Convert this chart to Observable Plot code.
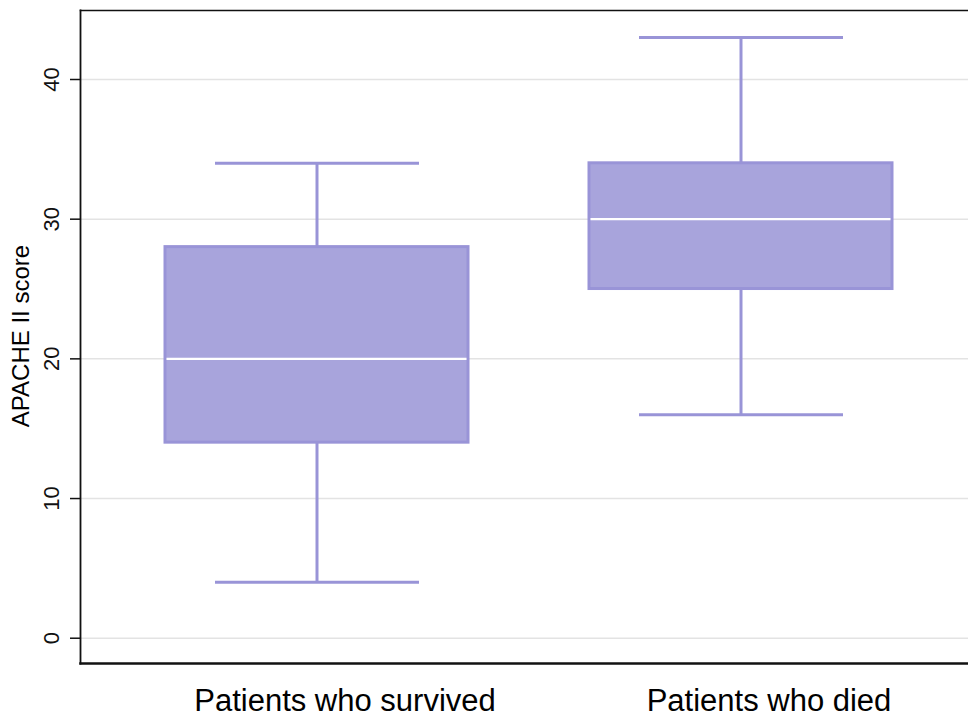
<!DOCTYPE html>
<html>
<head>
<meta charset="utf-8">
<script src="https://cdn.jsdelivr.net/npm/d3@7"></script>
<script src="https://cdn.jsdelivr.net/npm/@observablehq/plot@0.6"></script>
<style>
  html, body { margin: 0; padding: 0; background: #fff; overflow: hidden; }
  #chart { width: 968px; height: 719px; }
</style>
</head>
<body>
<div id="chart"></div>
<script>
// ---- data ----
const groups  = ["Patients who survived", "Patients who died"];
const lower   = [4, 16];    // lower adjacent value
const q1      = [14, 25];   // 25th percentile
const median  = [20, 30];   // median
const q3      = [28, 34];   // 75th percentile
const upper   = [34, 43];   // upper adjacent value
const yTicks  = [0, 10, 20, 30, 40];
const yLabel  = "APACHE II score";

const rows = groups.map((g, i) => ({
  group: g, lo: lower[i], q1: q1[i], med: median[i], q3: q3[i], hi: upper[i]
}));

const fillC = "#a8a4dc";
const strokeC = "#9994d7";
const font = "Liberation Sans, Arial, Helvetica, sans-serif";

const chart = Plot.plot({
  width: 968,
  height: 719,
  marginLeft: 80,
  marginRight: 0,
  marginTop: 10,
  marginBottom: 56,
  style: { fontFamily: font, background: "#fff", color: "#000" },
  x: {
    type: "band",
    domain: groups,
    range: [80, 977],
    paddingInner: 0.286,
    paddingOuter: 0.2,
    align: 0.5,
    axis: null
  },
  y: { domain: [-1.81, 44.94], axis: null },
  marks: [
    // grid
    Plot.ruleY(yTicks, { stroke: "#e3e3e3", strokeWidth: 1.5 }),
    // whiskers
    Plot.ruleX(rows, { x: "group", y1: "lo", y2: "q1", stroke: strokeC, strokeWidth: 3 }),
    Plot.ruleX(rows, { x: "group", y1: "q3", y2: "hi", stroke: strokeC, strokeWidth: 3 }),
    Plot.tickY(rows, { x: "group", y: "lo", stroke: strokeC, strokeWidth: 3, insetLeft: 50, insetRight: 49 }),
    Plot.tickY(rows, { x: "group", y: "hi", stroke: strokeC, strokeWidth: 3, insetLeft: 50, insetRight: 49 }),
    // boxes
    Plot.barY(rows, { x: "group", y1: "q1", y2: "q3", fill: fillC, stroke: strokeC, strokeWidth: 3 }),
    // medians
    Plot.tickY(rows, { x: "group", y: "med", stroke: "#ffffff", strokeWidth: 2.2, insetLeft: 1.5, insetRight: 1.5 }),
    // frame lines
    Plot.frame({ anchor: "top", stroke: "#111", strokeWidth: 1.5 }),
    Plot.frame({ anchor: "left", stroke: "#111", strokeWidth: 1.8 }),
    Plot.frame({ anchor: "bottom", stroke: "#111", strokeWidth: 2.5 }),
    // y ticks
    Plot.axisY(yTicks, { tickSize: 10, tickFormat: () => "", stroke: "#111", strokeWidth: 1.5, label: null }),
    // y tick labels (rotated)
    Plot.text(yTicks, {
      y: d => d, text: d => String(d), frameAnchor: "left", dx: -22,
      rotate: -90, textAnchor: "middle", lineAnchor: "bottom",
      fontSize: 22, fill: "#111"
    }),
    // y axis title
    Plot.text([yLabel], {
      text: d => d, frameAnchor: "left", dx: -52, dy: -1,
      rotate: -90, textAnchor: "middle", lineAnchor: "bottom",
      fontSize: 24, fill: "#000"
    }),
    // x category labels
    Plot.text(groups, {
      x: d => d, text: d => d, frameAnchor: "bottom", dy: 47, dx: 28,
      textAnchor: "middle", lineAnchor: "bottom", fontSize: 31, fill: "#000"
    })
  ]
});

document.getElementById("chart").appendChild(chart);
</script>
</body>
</html>
